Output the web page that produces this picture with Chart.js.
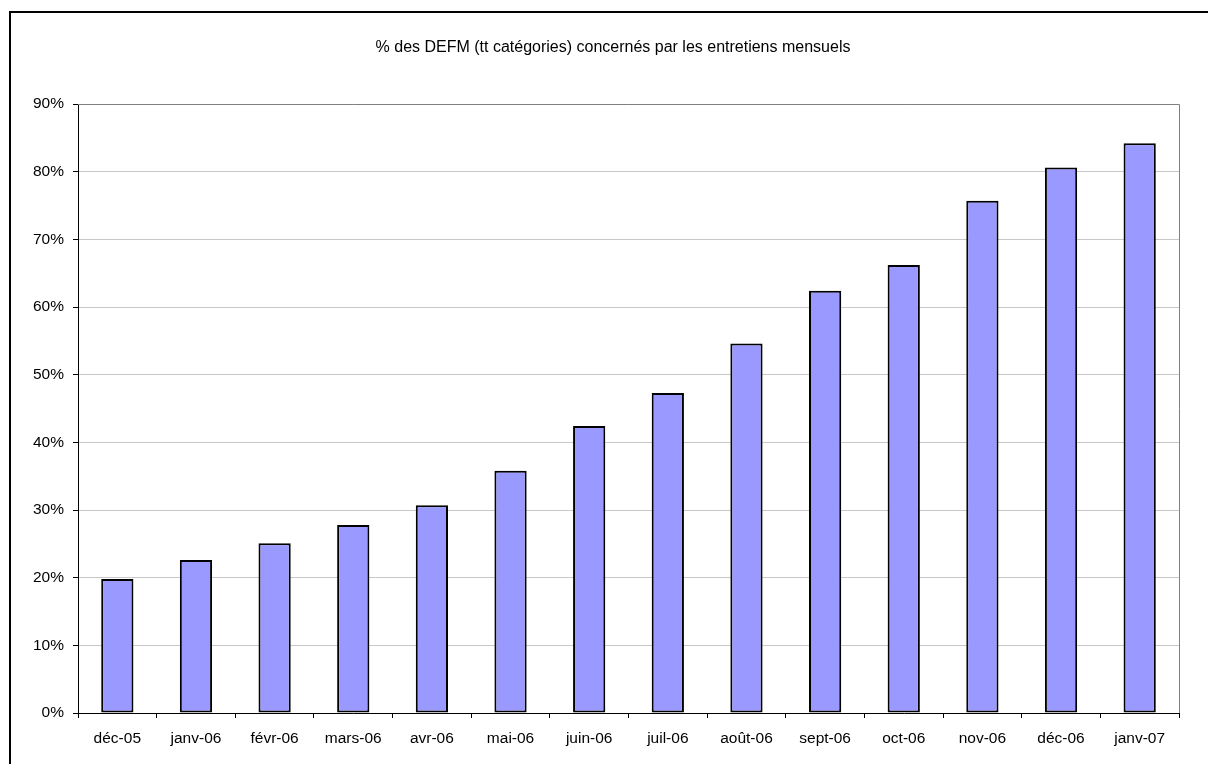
<!DOCTYPE html>
<html>
<head>
<meta charset="utf-8">
<script src="https://cdn.jsdelivr.net/npm/chart.js@4/dist/chart.umd.min.js"></script>
<style>
html,body{margin:0;padding:0;background:#fff;}
#wrap{position:relative;width:1208px;height:764px;}
</style>
</head>
<body>
<div id="wrap"><canvas id="c" width="1208" height="764"></canvas></div>
<script>
const categories = ["déc-05","janv-06","févr-06","mars-06","avr-06","mai-06","juin-06","juil-06","août-06","sept-06","oct-06","nov-06","déc-06","janv-07"];
const values = [19.8, 22.6, 25.1, 27.8, 30.7, 35.8, 42.4, 47.3, 54.6, 62.4, 66.2, 75.7, 80.6, 84.2];
const titleText = "% des DEFM (tt catégories) concernés par les entretiens mensuels";
const yTickStep = 10;
const yMax = 90;

const FONT = '"Liberation Sans", Arial, sans-serif';

const framePlugin = {
  id: 'frame',
  beforeDraw(chart) {
    const ctx = chart.ctx;
    ctx.save();
    ctx.fillStyle = '#fff';
    ctx.fillRect(0, 0, chart.width, chart.height);
    ctx.fillStyle = '#000';
    ctx.fillRect(9, 11, 2, chart.height);
    ctx.fillRect(9, 11, chart.width, 2);
    ctx.restore();
  },
  beforeDatasetsDraw(chart) {
    const a = chart.chartArea;
    const ctx = chart.ctx;
    ctx.save();
    ctx.strokeStyle = '#808080';
    ctx.lineWidth = 1;
    ctx.beginPath();
    ctx.moveTo(a.left, a.top + 0.5);
    ctx.lineTo(a.right + 0.5, a.top + 0.5);
    ctx.lineTo(a.right + 0.5, a.bottom);
    ctx.stroke();
    ctx.restore();
  },
  afterDraw(chart) {
    const ctx = chart.ctx;
    ctx.save();
    ctx.font = '16px ' + FONT;
    ctx.fillStyle = '#000';
    ctx.textAlign = 'center';
    ctx.textBaseline = 'middle';
    ctx.fillText(titleText, 613, 48);
    ctx.restore();
  }
};

new Chart(document.getElementById('c'), {
  type: 'bar',
  data: {
    labels: categories,
    datasets: [{
      data: values,
      backgroundColor: '#9999FF',
      borderColor: '#000000',
      borderWidth: 2,
      borderSkipped: false,
      barPercentage: 0.41,
      categoryPercentage: 1.0
    }]
  },
  options: {
    responsive: false,
    animation: false,
    devicePixelRatio: 1,
    layout: { padding: { left: 0, top: 104, right: 29, bottom: 0 } },
    plugins: {
      legend: { display: false },
      title: { display: false },
      tooltip: { enabled: false }
    },
    scales: {
      x: {
        afterFit(scale) { scale.height = 51; },
        grid: {
          offset: true,
          drawOnChartArea: false,
          drawTicks: true,
          tickLength: 5,
          tickColor: '#000',
          lineWidth: 1
        },
        border: { color: '#000', width: 1 },
        ticks: {
          color: '#000',
          font: { family: FONT, size: 15.5 },
          padding: 11,
          maxRotation: 0,
          autoSkip: false
        }
      },
      y: {
        min: 0,
        max: yMax,
        afterFit(scale) { scale.width = 78; },
        grid: {
          color: '#c8c8c8',
          lineWidth: 1,
          drawTicks: true,
          tickLength: 5,
          tickColor: '#000'
        },
        border: { color: '#000', width: 1 },
        ticks: {
          stepSize: yTickStep,
          color: '#000',
          font: { family: FONT, size: 15.5 },
          padding: 9,
          callback: v => v + '%'
        }
      }
    }
  },
  plugins: [framePlugin]
});
</script>
</body>
</html>
